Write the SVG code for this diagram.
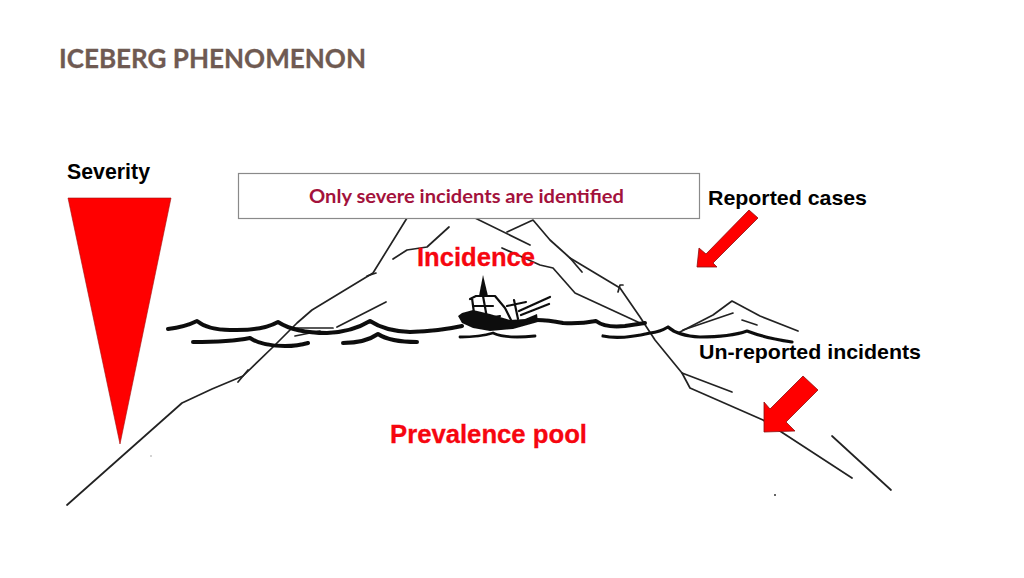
<svg xmlns="http://www.w3.org/2000/svg" width="1024" height="578" viewBox="0 0 1024 578">
<defs><filter id="soft" x="-5%" y="-5%" width="110%" height="110%"><feGaussianBlur stdDeviation="0.45"/></filter></defs>
<style>
.ln{fill:none;stroke:#222;stroke-width:1.700;stroke-linejoin:round;stroke-linecap:round}
.wv{fill:none;stroke:#111;stroke-width:4;stroke-linejoin:round;stroke-linecap:round}
.bt{fill:none;stroke:#111;stroke-width:2.200;stroke-linecap:round;stroke-linejoin:round}
.ar{fill:#f00;stroke:#8a1010;stroke-width:.8}
.lb{font-family:"Liberation Sans",Arial,sans-serif;font-weight:700;fill:#000}
.rd{font-family:"Liberation Sans",Arial,sans-serif;font-weight:700;fill:#f6060f;stroke:#f6060f;stroke-width:.3}
</style>
<rect width="1024" height="578" fill="#fff"/>
<text id="title" x="59" y="68" font-family="Lato,sans-serif" font-weight="700" font-size="26.500" fill="#6f5a52" stroke="#6f5a52" stroke-width=".3" textLength="307" lengthAdjust="spacingAndGlyphs">ICEBERG PHENOMENON</text>
<g id="iceberg" filter="url(#soft)">
<path class="ln" d="M67 505L182 403L212 389L243 376L273 347L297 323L312 310L373 273L407 218"/>
<path class="ln" d="M238 382L248 370"/>
<path class="ln" d="M367 276L376 273"/>
<path class="ln" d="M393 259L407 250L427 247L449 227"/>
<path class="ln" d="M475 218L530 245"/>
<path class="ln" d="M507 232L533 220L550 240L570 258L620 288L640 317L655 340L682 373L690 388L763 420L852 478"/>
<path class="ln" d="M502 248L540 265L553 268L575 293L640 323"/>
<path class="ln" d="M570 258L582 272"/>
<path class="ln" d="M618 292L620 285L623 285"/>
<path class="ln" d="M682 373L732 392"/>
<path class="ln" d="M832 436L891 490"/>
<path class="ln" d="M337 327L386 302"/>
<path class="ln" d="M295 336L320 331"/>
<path class="ln" d="M293 328H333"/>
<path class="ln" d="M678 333L713 315L732 301L760 316L798 331"/>
<path class="ln" d="M683 330L733 313"/>
<path class="ln" d="M742 320L757 325"/>
<circle cx="775" cy="495" r="1" fill="#333"/>
<circle cx="151" cy="456" r=".7" fill="#888"/>
</g>
<g id="waves" filter="url(#soft)">
<path class="wv" d="M168 329Q185 327 197 321Q208 330 230 330Q262 331 278 322Q295 333 327 333Q352 332 370 321Q385 331 410 332Q440 331 462 326"/>
<path class="wv" d="M537 320Q548 320 563 323Q580 324 596 321Q605 328 625 326L645 323"/>
<path class="wv" style="stroke-width:3.200" d="M603 336Q620 340 650 333Q660 332 668 327Q678 336 700 337Q730 337 747 331Q765 338 792 342"/>
<path class="wv" d="M193 342Q230 342 250 338Q262 346 285 346Q298 346 308 343"/>
<path class="wv" d="M343 343Q365 343 378 334Q390 342 417 342"/>
<path class="wv" style="stroke-width:2.800" d="M460 337Q480 337 493 333Q505 339 535 336"/>
</g>
<g id="ship" filter="url(#soft)">
<path d="M458 316L462 313L473 310L490 314L510 320L525 319L537 314L538 322L513 329L490 331L473 328L462 323Z" fill="#111"/>
<path d="M483 275L479 296H488Z" fill="#111"/>
<path class="bt" d="M470 299L476 296H495L505 308L511 320M472 298L474 313M483 296L487 318L500 316M474 306H493"/>
<path class="bt" d="M507 306L526 302M514 300L518 319M519 311L550 297M521 315L549 304"/>
</g>
<g id="note">
<rect x="238.500" y="173.500" width="461" height="45" fill="#fff" stroke="#8a8a8a" stroke-width="1.200"/>
<text x="309" y="203" font-family="Lato,sans-serif" font-weight="700" font-size="18" fill="#a3123c" textLength="315" lengthAdjust="spacingAndGlyphs">Only severe incidents are identified</text>
</g>
<g id="severity">
<text class="lb" x="67" y="179" font-size="21.500" textLength="83" lengthAdjust="spacingAndGlyphs">Severity</text>
<path d="M68 198H171L120 444Z" fill="#f00" stroke="#a01010" stroke-width=".6"/>
</g>
<g id="reported">
<text class="lb" x="708" y="205" font-size="21" textLength="159" lengthAdjust="spacingAndGlyphs">Reported cases</text>
<path class="ar" d="M749 210L758 218L713 263L717 267H697L699 248L706 254Z"/>
</g>
<g id="unreported">
<text class="lb" x="699" y="359" font-size="21" textLength="222" lengthAdjust="spacingAndGlyphs">Un-reported incidents</text>
<path class="ar" d="M803 376L818 390L786 422L795 431L764 432V402L770 409Z"/>
</g>
<text id="incidence" class="rd" x="417" y="266" font-size="25" textLength="118" lengthAdjust="spacingAndGlyphs">Incidence</text>
<text id="prevalence" class="rd" x="390" y="443" font-size="25" textLength="197" lengthAdjust="spacingAndGlyphs">Prevalence pool</text>
</svg>
